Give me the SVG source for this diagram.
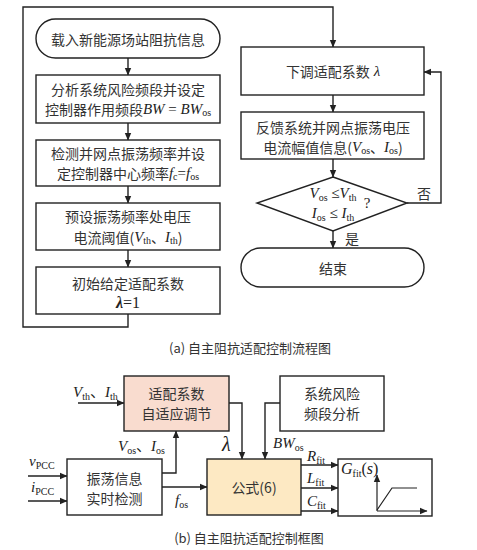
<svg xmlns="http://www.w3.org/2000/svg" width="477" height="550" viewBox="0 0 477 550">
<defs>
<marker id="ah" markerWidth="8" markerHeight="8" refX="7" refY="4" orient="auto" markerUnits="userSpaceOnUse">
<path d="M0,0.8 L7.5,4 L0,7.2 Z" fill="#222"/>
</marker>
<style>
.ln{fill:none;stroke:#222;stroke-width:1.4}
.bx{fill:#fff;stroke:#222;stroke-width:1.4}
.cn{font-family:"Noto Sans CJK SC","Noto Sans",sans-serif;font-size:14px;fill:#333;text-anchor:middle;dominant-baseline:central}
.mt{font-family:"Liberation Serif","Times New Roman",serif;font-size:15px;fill:#222}
.it{font-style:italic}
.sb{font-size:10px;font-style:normal}
.big{font-size:16px}
.cap{font-family:"Noto Sans CJK SC","Noto Sans",sans-serif;font-size:13px;fill:#333;text-anchor:middle;dominant-baseline:central}
</style>
</defs>

<g id="connectors">
<path class="ln" d="M128,58 V75" marker-end="url(#ah)"/>
<path class="ln" d="M128,123 V140" marker-end="url(#ah)"/>
<path class="ln" d="M128,186 V203" marker-end="url(#ah)"/>
<path class="ln" d="M128,250 V267" marker-end="url(#ah)"/>
<path class="ln" d="M128,314 V327 H23 V7 H333 V47" marker-end="url(#ah)"/>
<path class="ln" d="M333,95 V112" marker-end="url(#ah)"/>
<path class="ln" d="M333,159 V177" marker-end="url(#ah)"/>
<path class="ln" d="M333,231 V248" marker-end="url(#ah)"/>
<path class="ln" d="M407,203 H441 V72 H424" marker-end="url(#ah)"/>
<path class="ln" d="M78,403 H124" marker-end="url(#ah)"/>
<path class="ln" d="M229,403 H242 V459" marker-end="url(#ah)"/>
<path class="ln" d="M280,403 H265 V459" marker-end="url(#ah)"/>
<path class="ln" d="M162,473 H176 V431" marker-end="url(#ah)"/>
<path class="ln" d="M162,487 H207" marker-end="url(#ah)"/>
<path class="ln" d="M28,476 H67" marker-end="url(#ah)"/>
<path class="ln" d="M28,501 H67" marker-end="url(#ah)"/>
<path class="ln" d="M301,465 H338" marker-end="url(#ah)"/>
<path class="ln" d="M301,488 H338" marker-end="url(#ah)"/>
<path class="ln" d="M301,511 H338" marker-end="url(#ah)"/>
</g>

<g id="start">
<rect class="bx" x="36" y="19" width="184" height="39" rx="19.5"/>
<text class="cn" x="128" y="38.5">载入新能源场站阻抗信息</text>
</g>
<g id="analyze">
<rect class="bx" x="36" y="75" width="184" height="48"/>
<text class="cn" x="128" y="89">分析系统风险频段并设定</text>
<text class="cn" x="128" y="109">控制器作用频段<tspan class="mt it">BW</tspan><tspan class="mt"> = </tspan><tspan class="mt it">BW</tspan><tspan class="mt sb" dy="3">os</tspan></text>
</g>
<g id="detect">
<rect class="bx" x="36" y="140" width="184" height="46"/>
<text class="cn" x="128" y="153">检测并网点振荡频率并设</text>
<text class="cn" x="128" y="173">定控制器中心频率<tspan class="mt it">f</tspan><tspan class="mt sb" dy="3">c</tspan><tspan class="mt" dy="-3">=</tspan><tspan class="mt it">f</tspan><tspan class="mt sb" dy="3">os</tspan></text>
</g>
<g id="preset">
<rect class="bx" x="36" y="203" width="184" height="47"/>
<text class="cn" x="128" y="216">预设振荡频率处电压</text>
<text class="cn" x="128" y="237">电流阈值(<tspan class="mt it">V</tspan><tspan class="mt sb" dy="3">th</tspan><tspan dy="-3">、</tspan><tspan class="mt it">I</tspan><tspan class="mt sb" dy="3">th</tspan><tspan dy="-3">)</tspan></text>
</g>
<g id="init">
<rect class="bx" x="36" y="267" width="184" height="47"/>
<text class="cn" x="128" y="283">初始给定适配系数</text>
<text class="cn" x="128" y="302"><tspan class="mt it big" font-weight="bold">λ</tspan><tspan class="mt big">=1</tspan></text>
</g>
<g id="decrease">
<rect class="bx" x="241" y="47" width="183" height="48"/>
<text class="cn" x="333" y="71">下调适配系数<tspan class="mt it"> λ</tspan></text>
</g>
<g id="feedback">
<rect class="bx" x="241" y="112" width="183" height="47"/>
<text class="cn" x="333" y="127">反馈系统并网点振荡电压</text>
<text class="cn" x="333" y="147">电流幅值信息(<tspan class="mt it">V</tspan><tspan class="mt sb" dy="3">os</tspan><tspan dy="-3">、</tspan><tspan class="mt it">I</tspan><tspan class="mt sb" dy="3">os</tspan><tspan dy="-3">)</tspan></text>
</g>
<g id="decision">
<path class="bx" d="M333,177 L407,203 L333,231 L257,203 Z"/>
<text class="mt" x="333" y="198" text-anchor="middle"><tspan class="it">V</tspan><tspan class="sb" dy="3">os</tspan><tspan dy="-3"> ≤</tspan><tspan class="it">V</tspan><tspan class="sb" dy="3">th</tspan></text>
<text class="mt" x="333" y="218" text-anchor="middle"><tspan class="it">I</tspan><tspan class="sb" dy="3">os</tspan><tspan dy="-3"> ≤ </tspan><tspan class="it">I</tspan><tspan class="sb" dy="3">th</tspan></text>
<text class="mt" x="367" y="208" text-anchor="middle">?</text>
<text class="cn" x="424" y="193">否</text>
<text class="cn" x="352" y="238">是</text>
</g>
<g id="end">
<rect class="bx" x="241" y="248" width="183" height="39" rx="19.5"/>
<text class="cn" x="333" y="267.5">结束</text>
</g>
<text class="cap" x="250" y="347">(a)  自主阻抗适配控制流程图</text>

<g id="adapt">
<rect x="124" y="376" width="105" height="55" fill="#f9dccf" stroke="#222" stroke-width="1.4"/>
<text class="cn" x="176.5" y="393">适配系数</text>
<text class="cn" x="176.5" y="413">自适应调节</text>
</g>
<g id="risk">
<rect class="bx" x="280" y="376" width="104" height="55"/>
<text class="cn" x="332" y="393">系统风险</text>
<text class="cn" x="332" y="413">频段分析</text>
</g>
<g id="osc">
<rect class="bx" x="67" y="459" width="95" height="56"/>
<text class="cn" x="114.5" y="478">振荡信息</text>
<text class="cn" x="114.5" y="498">实时检测</text>
</g>
<g id="formula">
<rect x="207" y="459" width="94" height="56" fill="#fde9c3" stroke="#222" stroke-width="1.4"/>
<text class="cn" x="254" y="487">公式(6)</text>
</g>
<g id="gfit">
<rect class="bx" x="338" y="459" width="94" height="57"/>
<text class="mt" x="341" y="474"><tspan class="it big">G</tspan><tspan class="sb" dy="3">fit</tspan><tspan class="big" dy="-3">(</tspan><tspan class="it big">s</tspan><tspan class="big">)</tspan></text>
<path class="ln" d="M377,511 V475" marker-end="url(#ah)" style="stroke-width:1.2"/>
<path class="ln" d="M377,511 H427" marker-end="url(#ah)" style="stroke-width:1.2"/>
<path class="ln" d="M377,510 L392,488 H417" style="stroke-width:1.2"/>
</g>

<g id="labels">
<text class="mt" x="73" y="397"><tspan class="it">V</tspan><tspan class="sb" dy="3">th</tspan><tspan dy="-3" style="font-family:'Noto Sans CJK SC'">、</tspan><tspan class="it">I</tspan><tspan class="sb" dy="3">th</tspan></text>
<text class="mt" x="118" y="451"><tspan class="it">V</tspan><tspan class="sb" dy="3">os</tspan><tspan dy="-3" style="font-family:'Noto Sans CJK SC'">、</tspan><tspan class="it">I</tspan><tspan class="sb" dy="3">os</tspan></text>
<text class="mt it" x="222" y="451" style="font-size:20px">λ</text>
<text class="mt" x="273" y="448"><tspan class="it">BW</tspan><tspan class="sb" dy="3">os</tspan></text>
<text class="mt" x="29" y="466"><tspan class="it">v</tspan><tspan class="sb" dy="3">PCC</tspan></text>
<text class="mt" x="31" y="492"><tspan class="it">i</tspan><tspan class="sb" dy="3">PCC</tspan></text>
<text class="mt" x="175" y="505"><tspan class="it">f</tspan><tspan class="sb" dy="3">os</tspan></text>
<text class="mt" x="307" y="461"><tspan class="it">R</tspan><tspan class="sb" dy="3">fit</tspan></text>
<text class="mt" x="307" y="483"><tspan class="it">L</tspan><tspan class="sb" dy="3">fit</tspan></text>
<text class="mt" x="307" y="506"><tspan class="it">C</tspan><tspan class="sb" dy="3">fit</tspan></text>
</g>
<text class="cap" x="249" y="537">(b)  自主阻抗适配控制框图</text>
</svg>
